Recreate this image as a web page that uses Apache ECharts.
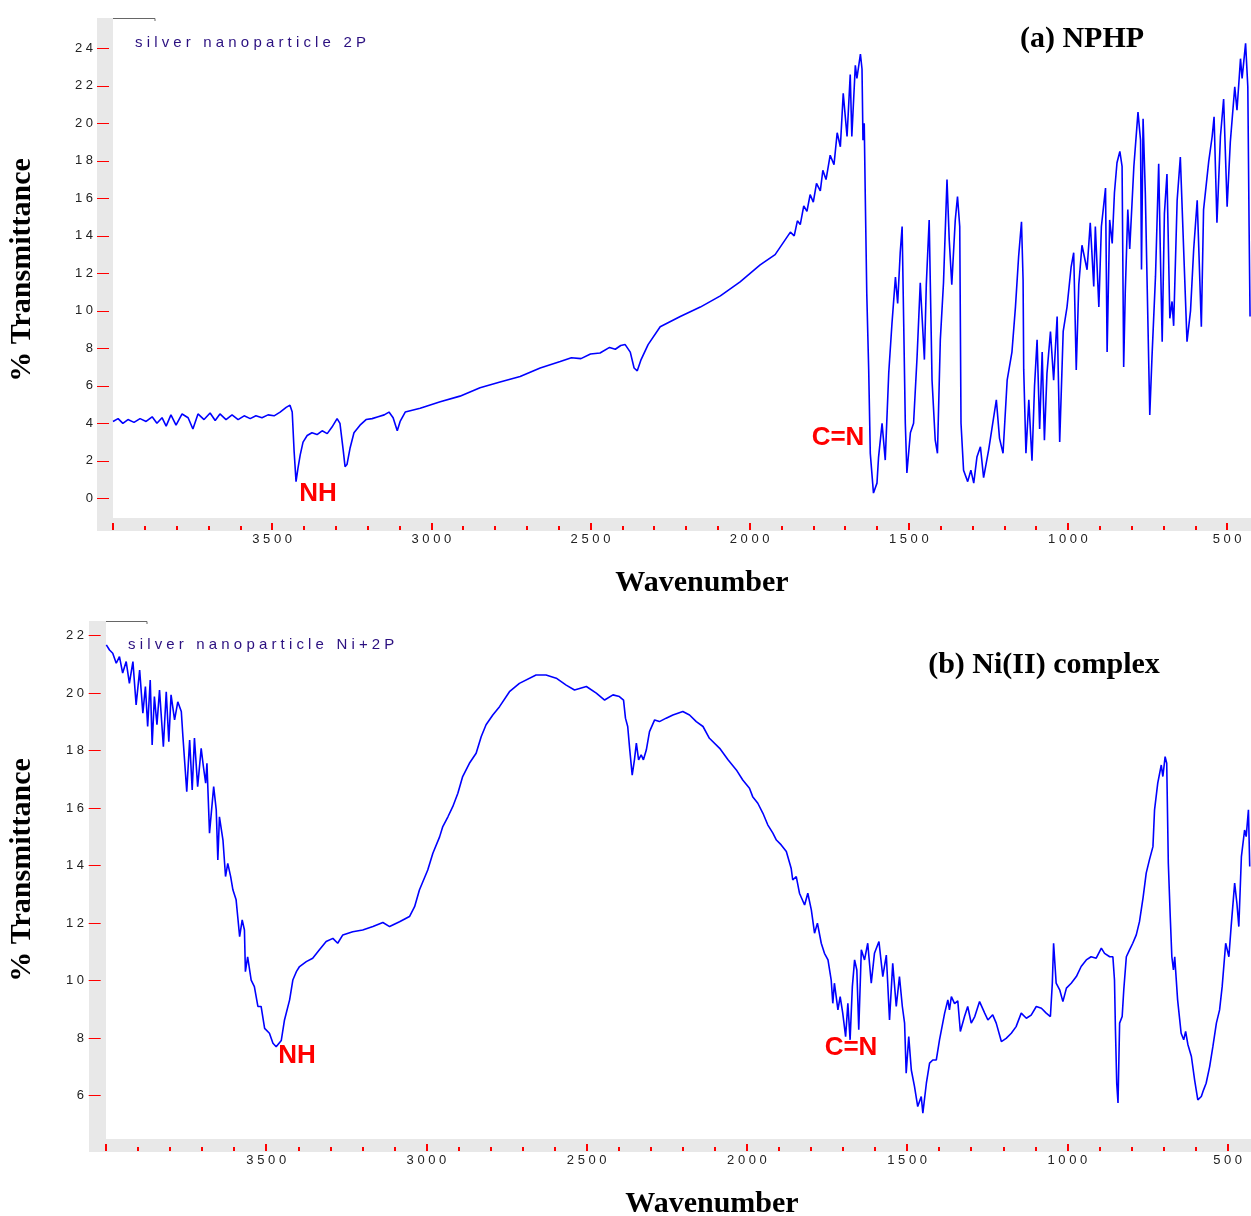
<!DOCTYPE html>
<html>
<head>
<meta charset="utf-8">
<script src="https://cdn.jsdelivr.net/npm/echarts@6/dist/echarts.min.js"></script>
<style>
html,body{margin:0;padding:0;background:#fff;}
#c{width:1251px;height:1216px;}
</style>
</head>
<body>
<div id="c"></div>
<script>
// ---------- (a) NPHP ----------
const wnA = [4000,3984,3969,3953,3934,3915,3896,3877,3862,3846,3833,3818,3802,3783,3764,3749,3733,3714,3695,3679,3664,3645,3626,3607,3588,3569,3551,3532,3513,3494,3475,3456,3444,3437,3431,3425,3419,3412,3403,3390,3375,3359,3343,3327,3312,3296,3287,3277,3271,3265,3255,3243,3224,3205,3186,3167,3148,3133,3120,3107,3098,3082,3035,2972,2910,2847,2784,2721,2658,2595,2560,2530,2500,2470,2440,2422,2405,2391,2375,2363,2353,2341,2319,2281,2218,2155,2092,2030,1967,1920,1872,1860,1850,1841,1830,1820,1810,1800,1790,1778,1770,1760,1747,1735,1725,1715,
1706,1694,1684,1679,1668,1663,1652,1647,1644,1640,1637,1632,1626,1621,1611,1600,1595,1584,1574,1563,1553,1542,1535,1527,1521,1516,1511,1506,1495,1485,1474,1464,1459,1451,1445,1436,1427,1417,1410,1401,1391,1380,1373,1365,1354,1347,1340,1336,1328,1315,1305,1296,1286,1275,1265,1249,1239,1225,1215,1204,1191,1176,1165,1155,1146,1141,1139,1132,1123,1113,1105,1097,1089,1081,1074,1066,1055,1045,1034,1026,1015,1003,990,982,974,966,956,940,930,919,914,903,895,882,877,869,861,854,846,837,830,825,820,812,806,793,780,772,769,764,757,751,743,736,725,715,710,704,697,689,680,673,668,657,647,636,626,615,605,594,581,574,558,547,541,532,521,511,500,490,476,469,458,453,442,435,431,428];
const tA = [4.1,4.25,4.0,4.2,4.05,4.25,4.1,4.35,4.0,4.3,3.85,4.45,3.9,4.5,4.3,3.7,4.5,4.2,4.55,4.15,4.5,4.2,4.45,4.2,4.4,4.25,4.4,4.3,4.45,4.4,4.6,4.85,4.97,4.6,2.5,0.89,1.6,2.3,3.0,3.35,3.5,3.4,3.6,3.45,3.8,4.25,4.0,2.6,1.69,1.8,2.7,3.5,3.9,4.2,4.25,4.35,4.45,4.6,4.3,3.6,4.1,4.6,4.8,5.15,5.45,5.9,6.2,6.5,6.95,7.3,7.5,7.45,7.7,7.75,8.05,7.95,8.15,8.2,7.8,6.95,6.8,7.4,8.2,9.15,9.7,10.2,10.8,11.55,12.45,13.0,14.2,14.0,14.8,14.6,15.6,15.3,16.2,15.8,16.8,16.4,17.5,17.0,18.3,17.8,19.5,18.75,
21.6,19.3,22.6,19.3,23.1,22.4,23.7,22.9,19.1,20.0,16.4,10.9,6.85,2.4,0.28,0.81,2.2,4.0,2.04,6.7,9.3,11.8,10.4,13.1,14.5,9.3,4.0,1.35,3.5,4.0,7.55,11.5,9.9,7.4,11.4,14.85,6.3,3.1,2.4,8.45,11.5,17.0,13.8,11.4,14.85,16.1,14.5,4.0,1.5,0.89,1.5,0.81,2.2,2.75,1.1,2.6,3.7,5.25,3.2,2.4,6.3,7.8,10.2,12.9,14.75,11.65,6.85,2.4,5.25,2.0,6.0,8.45,3.7,7.8,3.1,6.65,8.9,6.3,9.7,3.0,8.9,10.2,12.35,13.1,6.85,11.4,13.5,12.19,14.7,11.3,14.5,10.2,14.5,16.55,7.8,14.85,13.6,16.3,17.9,18.5,17.7,7.0,11.0,15.4,13.3,17.7,20.6,19.1,12.2,20.25,16.3,11.2,4.45,7.55,11.85,17.85,13.3,8.35,15.2,17.3,9.6,10.5,9.2,15.9,18.2,13.0,8.35,10.0,13.3,15.9,9.15,15.4,17.95,19.3,20.35,14.7,19.3,21.3,15.55,19.0,21.95,20.7,23.45,22.4,24.27,21.95,14.5,9.7];

// ---------- (b) Ni(II) complex ----------
const wnB = [3999,3989,3979,3968,3958,3948,3937,3927,3916,3906,3895,3885,3877,3870,3862,3856,3849,3841,3833,3821,3812,3804,3797,3786,3776,3765,3760,3748,3739,3731,3724,3714,3703,3696,3689,3685,3677,3664,3656,3651,3646,3635,3627,3620,3611,3604,3594,3589,3583,3575,3568,3565,3558,3547,3537,3526,3516,3505,3490,3479,3469,3453,3443,3427,3417,3406,3396,3375,3355,3334,3313,3292,3277,3261,3230,3199,3167,3136,3115,3084,3053,3037,3022,2996,2980,2959,2949,2933,2918,2902,2887,2866,2845,2829,2814,2793,2772,2741,2710,
2658,2627,2595,2564,2538,2501,2470,2444,2418,2398,2385,2379,2372,2366,2358,2351,2345,2338,2330,2323,2314,2304,2288,2273,2252,2231,2200,2179,2158,2137,2117,2085,2059,2033,2013,1992,1982,1966,1950,1935,1919,1908,1893,1877,1862,1857,1846,1836,1820,1810,1799,1789,1780,1768,1758,1747,1737,1732,1727,1716,1709,1701,1692,1685,1678,1671,1664,1657,1651,1643,1633,1623,1612,1602,1588,1576,1565,1555,1545,1534,1524,
1515,1508,1503,1495,1487,1477,1467,1456,1451,1440,1430,1420,1409,1399,1383,1373,1368,1362,1352,1342,1334,1321,1311,1300,1289,1274,1258,1248,1233,1222,1206,1191,1175,1160,1144,1128,1113,1097,1081,1066,1053,1047,1043,1038,1035,1024,1014,1003,988,972,957,941,926,910,894,884,868,858,853,850,846,842,837,829,824,816,806,796,785,775,764,754,744,733,728,718,707,702,695,690,685,679,674,669,665,660,656,645,637,631,624,613,603,593,582,575,567,556,546,535,525,517,506,496,489,478,471,465,457,447,442,435,431];
const tB = [21.68,21.5,21.39,21.04,21.27,20.7,21.1,20.34,21.1,19.59,20.8,19.3,20.23,18.84,20.46,18.2,19.88,18.9,20.11,18.14,20.05,18.31,19.94,19.07,19.7,19.36,18.49,16.57,18.37,16.63,18.44,16.75,18.08,17.44,16.87,17.56,15.13,16.75,15.94,14.2,15.7,14.89,13.62,14.08,13.62,13.16,12.81,12.23,11.53,12.11,11.76,10.31,10.83,10.02,9.79,9.1,9.1,8.34,8.17,7.82,7.7,7.92,8.63,9.33,10.02,10.31,10.49,10.66,10.78,11.07,11.36,11.47,11.3,11.59,11.7,11.76,11.88,12.02,11.88,12.05,12.23,12.57,13.15,13.85,14.43,15.0,15.36,15.7,16.05,16.52,17.1,17.56,17.91,18.49,18.9,19.24,19.53,20.05,20.34,
20.63,20.63,20.52,20.28,20.11,20.23,20.0,19.76,19.94,19.88,19.76,19.13,18.84,18.08,17.15,17.68,18.26,17.68,17.85,17.68,18.02,18.66,19.07,19.01,19.13,19.24,19.36,19.24,19.01,18.84,18.43,18.08,17.68,17.33,16.98,16.69,16.4,16.17,15.82,15.42,15.13,14.89,14.72,14.49,13.91,13.5,13.62,13.04,12.63,13.04,12.46,11.65,12.0,11.3,10.95,10.72,10.02,9.21,9.91,8.98,9.44,8.87,8.05,9.21,7.94,9.79,10.72,10.37,8.29,11.07,10.72,11.3,9.91,10.95,11.36,10.14,10.89,8.63,10.6,9.1,10.14,
9.1,8.52,6.78,8.05,6.89,6.31,5.62,5.97,5.39,6.43,7.13,7.24,7.24,7.94,8.87,9.33,8.98,9.44,9.2,9.3,8.23,8.75,9.1,8.52,8.75,9.27,8.87,8.63,8.81,8.52,7.88,7.99,8.17,8.4,8.87,8.69,8.8,9.1,9.04,8.87,8.75,9.91,11.3,11.3,9.91,9.68,9.27,9.74,9.91,10.14,10.49,10.72,10.83,10.78,11.13,10.95,10.83,10.83,10.02,8.29,6.43,5.74,8.52,8.75,9.68,10.83,11.07,11.3,11.59,12.05,12.87,13.74,14.2,14.66,15.94,16.87,17.5,17.1,17.79,17.56,14.08,12.23,10.83,10.37,10.83,10.83,9.33,8.17,7.94,8.23,7.78,7.36,6.55,5.85,5.97,6.2,6.43,7.01,7.7,8.52,8.98,9.79,11.3,10.83,11.88,13.39,12.69,11.88,14.31,15.24,15.01,15.94,13.97];

// ---------- ticks ----------
const xMajorTicks = [4000,3500,3000,2500,2000,1500,1000,500];
const xLabelTicks = [3500,3000,2500,2000,1500,1000,500];
const xMinorTicks = [];
for (let v = 4000; v >= 500; v -= 100) xMinorTicks.push(v);
const yTicksA = [0,2,4,6,8,10,12,14,16,18,20,22,24];
const yTicksB = [6,8,10,12,14,16,18,20,22];

const X_MAX = 4000;
const spaced = v => String(v).split('').join(' ');
const zip = (a, b) => a.map((x, i) => [x, b[i]]);

const RED = '#ff0000';
const GRAY = '#e8e8e8';
const SERIF = '"Liberation Serif", "Times New Roman", serif';
const SANS = '"Liberation Sans", Arial, sans-serif';

function xMain(grid, min, offset) {
  return {
    type: 'value', gridIndex: grid, min: min, max: X_MAX, inverse: true,
    position: 'bottom', offset: offset,
    axisLine: {show: false, onZero: false}, splitLine: {show: false},
    axisTick: {show: true, inside: true, length: 7, customValues: xMajorTicks, lineStyle: {color: RED, width: 2}},
    axisLabel: {show: true, customValues: xLabelTicks, margin: 3, formatter: spaced, color: '#222', fontSize: 13, fontFamily: SANS}
  };
}
function xMinor(grid, min, offset) {
  return {
    type: 'value', gridIndex: grid, min: min, max: X_MAX, inverse: true,
    position: 'bottom', offset: offset,
    axisLine: {show: false, onZero: false}, splitLine: {show: false},
    axisTick: {show: true, inside: true, length: 4, customValues: xMinorTicks, lineStyle: {color: RED, width: 2}},
    axisLabel: {show: false}
  };
}
function yMain(grid, min, max, ticks, offset, margin) {
  return {
    type: 'value', gridIndex: grid, min: min, max: max, position: 'left', offset: offset,
    axisLine: {show: false, onZero: false}, splitLine: {show: false},
    axisTick: {show: true, inside: false, length: 12, customValues: ticks, lineStyle: {color: RED, width: 1}},
    axisLabel: {show: true, customValues: ticks, margin: margin, formatter: spaced, color: '#222', fontSize: 13, fontFamily: SANS}
  };
}
const hidden = (g) => ({type: 'value', gridIndex: g, show: false, min: 0, max: 1, axisLine: {onZero: false}});

const chart = echarts.init(document.getElementById('c'), null, {renderer: 'canvas'});
chart.setOption({
  backgroundColor: '#fff',
  animation: false,
  grid: [
    {left: 97, top: 18, right: 0, bottom: 685, show: true, backgroundColor: GRAY, borderWidth: 0},
    {left: 113, top: 18, right: 0, bottom: 698, show: true, backgroundColor: '#fff', borderWidth: 0},
    {left: 89, top: 621, right: 0, bottom: 64, show: true, backgroundColor: GRAY, borderWidth: 0},
    {left: 106, top: 621, right: 0, bottom: 77, show: true, backgroundColor: '#fff', borderWidth: 0}
  ],
  xAxis: [hidden(0), xMain(1, 425, 12), xMinor(1, 425, 12), hidden(2), xMain(3, 427, 12), xMinor(3, 427, 12)],
  yAxis: [hidden(0), yMain(1, -1.05, 25.62, yTicksA, 4, 16), hidden(2), yMain(3, 4.49, 22.51, yTicksB, 5.3, 16.7)],
  series: [
    {type: 'line', xAxisIndex: 1, yAxisIndex: 1, data: zip(wnA, tA), showSymbol: false, symbol: 'none',
     lineStyle: {color: '#0000ff', width: 1.6}, z: 3},
    {type: 'line', xAxisIndex: 4, yAxisIndex: 3, data: zip(wnB, tB), showSymbol: false, symbol: 'none',
     lineStyle: {color: '#0000ff', width: 1.6}, z: 3}
  ],
  graphic: [
    {type: 'polyline', shape: {points: [[113, 18.5], [155, 18.5], [155, 21]]}, style: {stroke: '#666', lineWidth: 1, fill: null}},
    {type: 'polyline', shape: {points: [[106, 621.5], [147, 621.5], [147, 624]]}, style: {stroke: '#666', lineWidth: 1, fill: null}},
    {type: 'text', x: 135, y: 43, style: {text: spaced('silver nanoparticle 2P'), fill: '#2b1080', font: '15px ' + SANS, textVerticalAlign: 'middle'}},
    {type: 'text', x: 128, y: 645, style: {text: spaced('silver nanoparticle Ni+2P'), fill: '#2b1080', font: '15px ' + SANS, textVerticalAlign: 'middle'}},
    {type: 'text', x: 1082, y: 39, style: {text: '(a) NPHP', fill: '#000', font: 'bold 30px ' + SERIF, textAlign: 'center', textVerticalAlign: 'middle'}},
    {type: 'text', x: 1044, y: 665, style: {text: '(b) Ni(II) complex', fill: '#000', font: 'bold 30px ' + SERIF, textAlign: 'center', textVerticalAlign: 'middle'}},
    {type: 'text', x: 702, y: 583, style: {text: 'Wavenumber', fill: '#000', font: 'bold 30px ' + SERIF, textAlign: 'center', textVerticalAlign: 'middle'}},
    {type: 'text', x: 712, y: 1204, style: {text: 'Wavenumber', fill: '#000', font: 'bold 30px ' + SERIF, textAlign: 'center', textVerticalAlign: 'middle'}},
    {type: 'text', x: 22, y: 270, rotation: Math.PI / 2, style: {text: '% Transmittance', fill: '#000', font: 'bold 30px ' + SERIF, textAlign: 'center', textVerticalAlign: 'middle'}},
    {type: 'text', x: 22, y: 870, rotation: Math.PI / 2, style: {text: '% Transmittance', fill: '#000', font: 'bold 30px ' + SERIF, textAlign: 'center', textVerticalAlign: 'middle'}},
    {type: 'text', x: 318, y: 494, style: {text: 'NH', fill: RED, font: 'bold 26px ' + SANS, textAlign: 'center', textVerticalAlign: 'middle'}},
    {type: 'text', x: 838, y: 438, style: {text: 'C=N', fill: RED, font: 'bold 26px ' + SANS, textAlign: 'center', textVerticalAlign: 'middle'}},
    {type: 'text', x: 297, y: 1056, style: {text: 'NH', fill: RED, font: 'bold 26px ' + SANS, textAlign: 'center', textVerticalAlign: 'middle'}},
    {type: 'text', x: 851, y: 1048, style: {text: 'C=N', fill: RED, font: 'bold 26px ' + SANS, textAlign: 'center', textVerticalAlign: 'middle'}}
  ]
});
</script>
</body>
</html>
